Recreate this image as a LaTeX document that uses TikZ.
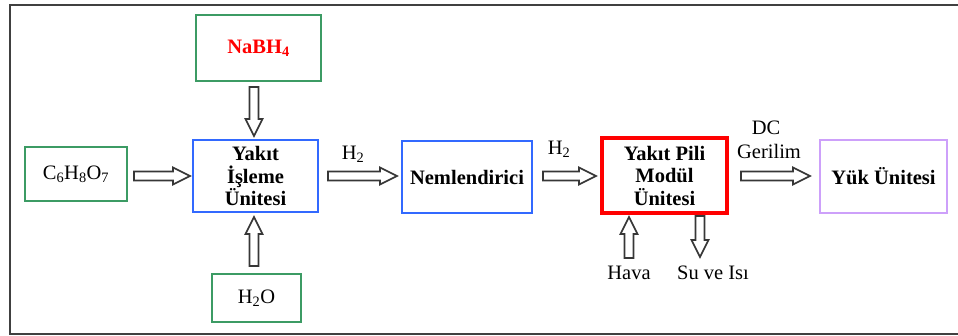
\documentclass[tikz,border=0pt]{standalone}
\usepackage{fontspec}
\setmainfont{Liberation Serif}
\usetikzlibrary{calc}
\definecolor{boxgreen}{RGB}{60,155,100}
\definecolor{boxblue}{RGB}{50,105,255}
\definecolor{boxred}{RGB}{255,0,0}
\definecolor{boxpurple}{RGB}{205,160,250}
\definecolor{framegray}{RGB}{64,64,64}
\definecolor{arrowgray}{RGB}{55,55,55}

% hollow block arrow between two named points
\newcommand\blockarrow[2]{%
  \coordinate (#1-#2-h) at ($(#2)!17pt!(#1)$);
  \draw[barrow]
    ($(#1)!4.5pt!-90:(#2)$) -- ($(#1-#2-h)!4.5pt!-90:(#2)$) --
    ($(#1-#2-h)!8.5pt!-90:(#2)$) -- (#2) --
    ($(#1-#2-h)!8.5pt!90:(#2)$) -- ($(#1-#2-h)!4.5pt!90:(#2)$) --
    ($(#1)!4.5pt!90:(#2)$) -- cycle;
}

\begin{document}
\begin{tikzpicture}[x=1pt,y=-1pt,
  box/.style={draw, line width=2pt, inner sep=0pt, align=center,
    font=\fontsize{20.5}{22.5}\selectfont\bfseries},
  plain/.style={inner sep=0pt, align=center,
    font=\fontsize{20.5}{22.5}\selectfont},
  barrow/.style={draw=arrowgray, line width=1.6pt, fill=white, line join=miter},
  frame/.style={draw=framegray, line width=2pt}]
\useasboundingbox (0,0) rectangle (958,336);
\clip (0,0) rectangle (958,336);

% outer frame (open towards the right edge)
\draw[frame] (970,5) -- (10,5) -- (10,334) -- (970,334);

% blocks
\node[box, draw=boxgreen, minimum width=125pt, minimum height=66pt, text=boxred]
  (nabh) at (258.5,48) {NaBH\textsubscript{4}};
\node[box, draw=boxgreen, minimum width=102pt, minimum height=54pt, font=\fontsize{20.5}{22.5}\selectfont]
  (citric) at (76,174) {C\textsubscript{6}H\textsubscript{8}O\textsubscript{7}};
\node[box, draw=boxblue, minimum width=125pt, minimum height=72pt]
  (yakit) at (255.5,176) {Yakıt\\İşleme\\Ünitesi};
\node[box, draw=boxgreen, minimum width=89pt, minimum height=48pt, font=\fontsize{20.5}{22.5}\selectfont]
  (water) at (256.5,298) {H\textsubscript{2}O};
\node[box, draw=boxblue, minimum width=130pt, minimum height=72pt]
  (nem) at (467,177) {Nemlendirici};
\node[box, draw=boxred, line width=4pt, minimum width=125pt, minimum height=75pt]
  (pili) at (664.5,175.5) {Yakıt Pili\\Modül\\Ünitesi};
\node[box, draw=boxpurple, minimum width=127pt, minimum height=73pt]
  (yuk) at (883.5,176.5) {Yük Ünitesi};

% arrow end points
\coordinate (nb-s) at ($(yakit.north |- nabh.south)+(-1.5,5)$);
\coordinate (nb-e) at ($(yakit.north)+(-1.5,-3)$);
\coordinate (wa-s) at ($(yakit.south |- water.north)+(-1.5,-7)$);
\coordinate (wa-e) at ($(yakit.south)+(-1.5,4)$);
\coordinate (ci-s) at ($(citric.east |- yakit.west)+(6,0)$);
\coordinate (ci-e) at ($(yakit.west)+(-2,0)$);
\coordinate (ya-s) at ($(yakit.east)+(9,0)$);
\coordinate (ya-e) at ($(nem.west |- yakit.east)+(-4,0)$);
\coordinate (ne-s) at ($(nem.east |- yakit.east)+(10,0)$);
\coordinate (ne-e) at ($(pili.west |- yakit.east)+(-4,0)$);
\coordinate (pi-s) at ($(pili.east |- yakit.east)+(12,0)$);
\coordinate (pi-e) at ($(yuk.west |- yakit.east)+(-9,0)$);
\coordinate (hv-s) at ($(pili.south)+(-35.5,43)$);
\coordinate (hv-e) at ($(pili.south)+(-35.5,2)$);
\coordinate (su-s) at ($(pili.south)+(35.5,1)$);
\coordinate (su-e) at ($(pili.south)+(35.5,42)$);

\blockarrow{nb-s}{nb-e}
\blockarrow{wa-s}{wa-e}
\blockarrow{ci-s}{ci-e}
\blockarrow{ya-s}{ya-e}
\blockarrow{ne-s}{ne-e}
\blockarrow{pi-s}{pi-e}
\blockarrow{hv-s}{hv-e}
\blockarrow{su-s}{su-e}

% flow labels
\node[plain] (lh2a) at (353,154) {H\textsubscript{2}};
\node[plain] (lh2b) at (559,149) {H\textsubscript{2}};
\node[plain] (ldc) at (766,128) {DC};
\node[plain] (lger) at (769,151) {Gerilim};
\node[plain] (lhava) at (629,273) {Hava};
\node[plain] (lsu) at (713,273) {Su ve Isı};
\end{tikzpicture}
\end{document}
